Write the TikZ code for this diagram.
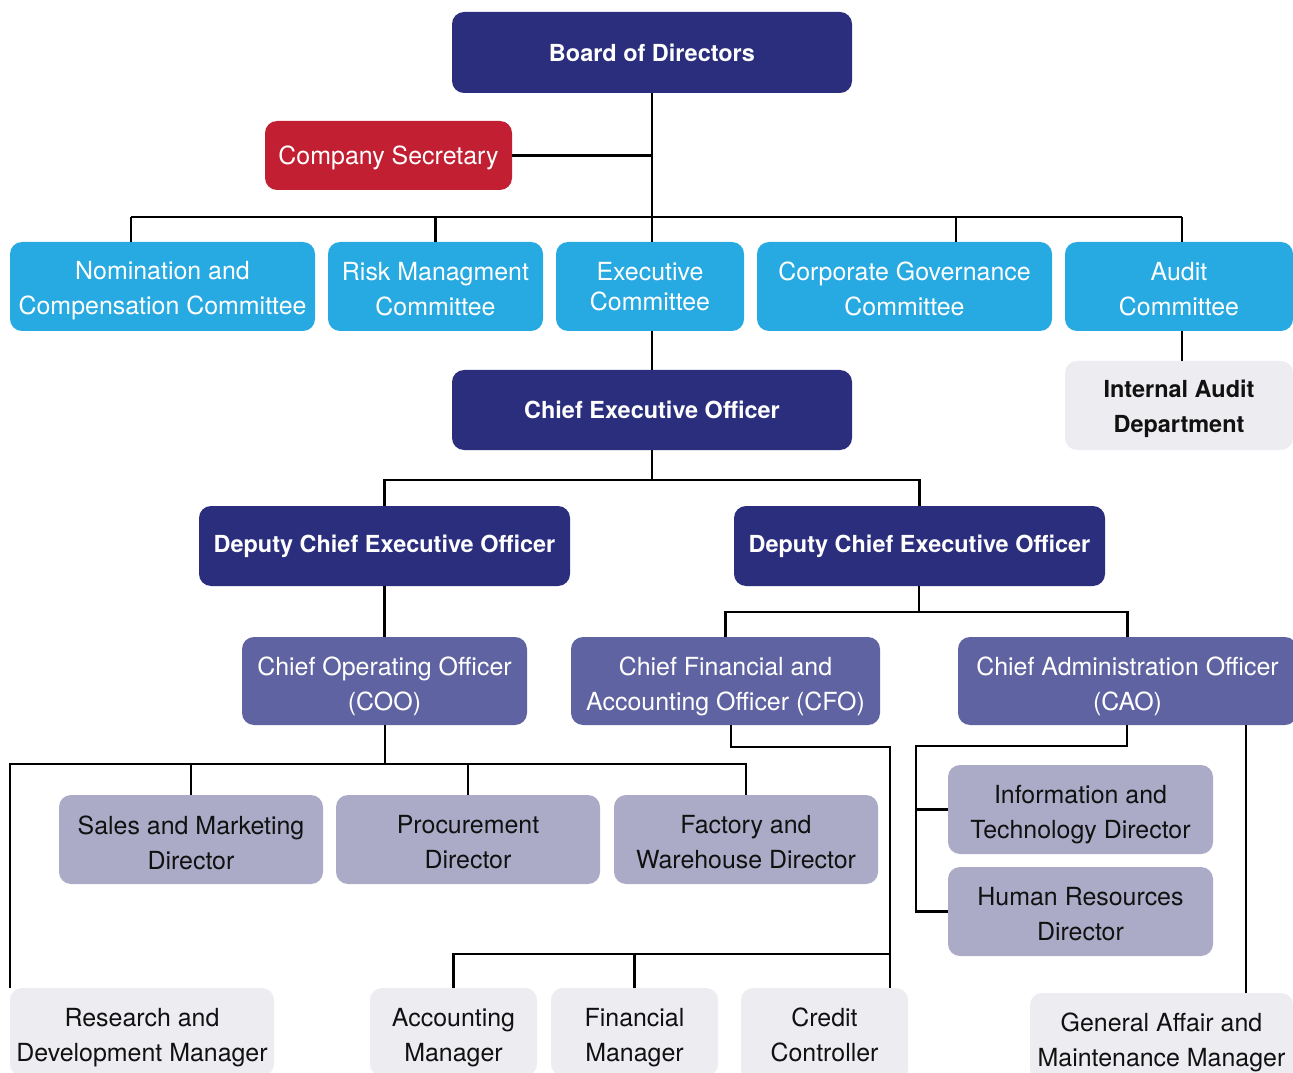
\documentclass[tikz,border=0pt]{standalone}
\usepackage{fontspec}
\setmainfont{TeX Gyre Heros}
\definecolor{navy}{HTML}{2A2E7C}
\definecolor{secred}{HTML}{C21F32}
\definecolor{cyanbox}{HTML}{27A9E1}
\definecolor{midpurple}{HTML}{6063A2}
\definecolor{lavender}{HTML}{ABABC8}
\definecolor{lightgrey}{HTML}{EDECF1}
\definecolor{txtdark}{HTML}{111111}
% \bx[shift px]{name}{x1}{y1}{x2}{y2}{style}{text}
\newcommand\bx[8][0]{%
  \node[#7, minimum width={(#5-#3)*0.75pt}, minimum height={(#6-#4)*0.75pt}] (#2) at ({(#3+#5)/2},{(#4+#6)/2}) {};
  \node[#7, fill=none, yshift={-#1*0.75pt}] at (#2.center) {#8};}
\tikzset{
  basebox/.style={rectangle, rounded corners=9pt, inner sep=0pt, outer sep=0pt, align=center, font=\fontsize{18.7}{26.2}\selectfont},
  navybox/.style={basebox, fill=navy, text=white, font=\fontsize{17.6}{26.2}\selectfont\bfseries},
  redbox/.style={basebox, fill=secred, text=white},
  cyanb/.style={basebox, fill=cyanbox, text=white},
  purpbox/.style={basebox, fill=midpurple, text=white},
  lavbox/.style={basebox, fill=lavender, text=txtdark},
  greybox/.style={basebox, fill=lightgrey, text=txtdark},
  conn/.style={draw=black, line width=2.2pt}
}
\begin{document}
\begin{tikzpicture}[x=0.75pt,y=-0.75pt]
\useasboundingbox (0,0) rectangle (1293,1073);
\clip (0,0) rectangle (1293,1073);
\fill[white] (0,0) rectangle (1293,1073);
\coordinate (busL) at (131,217);
\coordinate (busC) at (956,217);
\coordinate (busR) at (1182,217);
\coordinate (c1) at (652,480);
\coordinate (c2) at (919,612);
\coordinate (c3) at (385,764);
\coordinate (f1) at (731,747);
\coordinate (f2) at (890,747);
\coordinate (f3) at (890,954);
\coordinate (a1) at (1127,746);
\coordinate (a2) at (916,746);
\coordinate (a3) at (1246,746);
\coordinate (r1) at (10,764);
% connectors
\draw[conn] (c1) -- (652,93);
\draw[conn] (265,156) -- (652,156);
\draw[conn] (busL) -- (busR);
% boxes
\bx{board}{452}{12}{852}{93}{navybox}{Board of Directors}
\bx[2]{sec}{265}{121}{512}{190}{redbox}{Company Secretary}
\bx[4]{nom}{10}{242}{315}{331}{cyanb}{Nomination and\\Compensation Committee}
\bx[3]{risk}{328}{242}{543}{331}{cyanb}{Risk Managment\\Committee}
\bx[0]{exec}{556}{242}{744}{331}{cyanb}{Executive\\[-3.7pt]Committee}
\bx[2]{cgov}{757}{242}{1052}{331}{cyanb}{Corporate Governance\\Committee}
\bx[3]{aud}{1065}{242}{1293}{331}{cyanb}{Audit\\Committee}
\bx[3]{iad}{1065}{361}{1293}{450}{greybox,font=\fontsize{17.6}{26.2}\selectfont\bfseries}{Internal Audit\\Department}
\bx{ceo}{452}{370}{852}{450}{navybox}{Chief Executive Officer}
\bx{dl}{199}{506}{570}{586}{navybox}{Deputy Chief Executive Officer}
\bx{dr}{734}{506}{1105}{586}{navybox}{Deputy Chief Executive Officer}
\bx[5]{coo}{242}{637}{527}{725}{purpbox}{Chief Operating Officer\\(COO)}
\bx[5]{cfo}{571}{637}{880}{725}{purpbox}{Chief Financial and\\Accounting Officer (CFO)}
\bx[5]{cao}{958}{637}{1297}{725}{purpbox}{Chief Administration Officer\\(CAO)}
\bx[3]{sales}{59}{795}{323}{884}{lavbox}{Sales and Marketing\\Director}
\bx[3]{proc}{336}{795}{600}{884}{lavbox}{Procurement\\Director}
\bx[3]{fac}{614}{795}{878}{884}{lavbox}{Factory and\\Warehouse Director}
\bx[5]{it}{948}{765}{1213}{854}{lavbox}{Information and\\Technology Director}
\bx[3]{hr}{948}{867}{1213}{956}{lavbox}{Human Resources\\Director}
\bx[6]{rd}{10}{988}{274}{1076}{greybox}{Research and\\Development Manager}
\bx[6]{acc}{370}{988}{537}{1076}{greybox}{Accounting\\Manager}
\bx[6]{fin}{551}{988}{718}{1076}{greybox}{Financial\\Manager}
\bx[0]{cred}{741}{988}{908}{1082}{greybox}{Credit\\Controller}
\bx[5]{ga}{1030}{993}{1293}{1081}{greybox}{General Affair and\\Maintenance Manager}
% connectors between boxes
\draw[conn] (board.south) -- (board.south |- exec.north);
\draw[conn] (sec.east) -- (sec.east -| board.south);
\draw[conn] (busL) -- (busL |- nom.north);
\draw[conn] (risk.north) -- (risk.north |- busL);
\draw[conn] (busC) -- (busC |- cgov.north);
\draw[conn] (busR) -- (busR |- aud.north);
\draw[conn] (busR |- aud.south) -- (busR |- iad.north);
\draw[conn] (ceo.north -| board.south) -- (exec.south -| board.south);
\draw[conn] (ceo.south -| board.south) -- (c1);
\draw[conn] (dl.north) |- (c1) -| (dr.north);
\draw[conn] (dl.south) -- (coo.north);
\draw[conn] (dr.south -| c2) -- (c2);
\draw[conn] (cfo.north) |- (c2) -| (cao.north);
\draw[conn] (coo.south -| c3) -- (c3);
\draw[conn] (rd.north -| r1) -- (r1) -- (fac.north |- c3) -- (fac.north);
\draw[conn] (sales.north) -- (sales.north |- c3);
\draw[conn] (proc.north) -- (proc.north |- c3);
\draw[conn] (cfo.south -| f1) -- (f1) -- (f2) -- (cred.north -| f2);
\draw[conn] (acc.north) |- (f3);
\draw[conn] (fin.north) -- (fin.north |- f3);
\draw[conn] (cao.south -| a1) -- (a1) -- (a2) |- (hr.west);
\draw[conn] (it.west) -- (it.west -| a2);
\draw[conn] (cao.south -| a3) -- (ga.north -| a3);
\end{tikzpicture}
\end{document}
